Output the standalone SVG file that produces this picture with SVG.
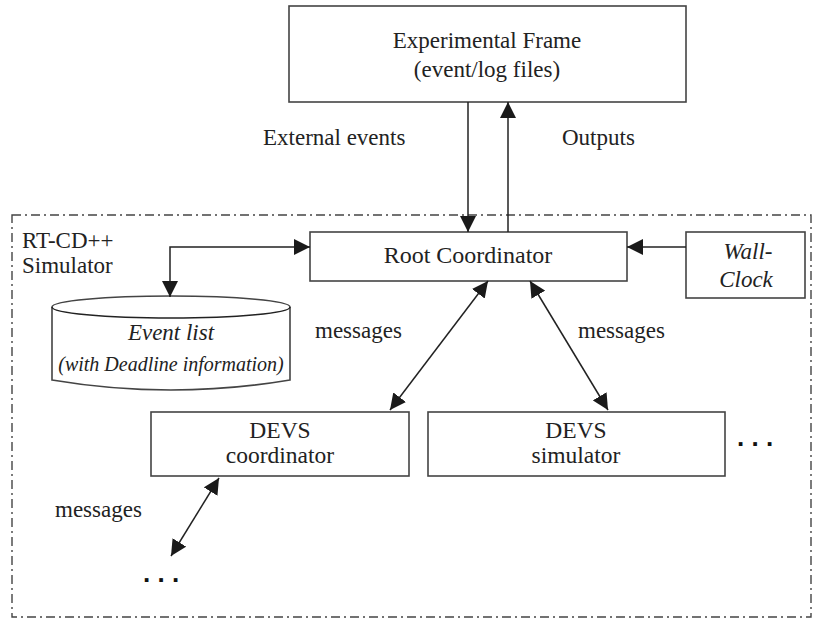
<svg xmlns="http://www.w3.org/2000/svg" width="816" height="621" viewBox="0 0 816 621">
  <defs>
    <marker id="ah" viewBox="0 0 10 10" refX="10" refY="5" markerWidth="16" markerHeight="16" markerUnits="userSpaceOnUse" orient="auto-start-reverse">
      <path d="M0,0 L10,5 L0,10 z" fill="#1a1a1a"/>
    </marker>
    <style>
      .box { fill: #fff; stroke: #444; stroke-width: 1.6; }
      .t { font-family: "Liberation Serif", "Times New Roman", serif; font-size: 23px; fill: #222; text-anchor: middle; }
      .i { font-style: italic; }
      .l { text-anchor: start; }
      .big { font-size: 23.5px; }
      .small { font-size: 20px; }
      .c { stroke: #222; stroke-width: 1.5; fill: none; }
      .dots { font-family: "Liberation Sans", Arial, sans-serif; font-size: 26px; font-weight: bold; fill: #111; }
    </style>
  </defs>
  <rect width="816" height="621" fill="#fff"/>

  <!-- simulator boundary -->
  <rect x="12" y="215" width="799" height="402" fill="none" stroke="#444" stroke-width="1.4" stroke-dasharray="9,4,2,4"/>
  <text class="t l" x="22" y="248">RT-CD++</text>
  <text class="t l" x="22" y="273">Simulator</text>

  <g id="experimental-frame">
    <rect class="box" x="289" y="6" width="397" height="96"/>
    <text class="t" x="487" y="48">Experimental Frame</text>
    <text class="t" x="487" y="77">(event/log files)</text>
  </g>

  <g id="root-coordinator">
    <rect class="box" x="310" y="232" width="317" height="49"/>
    <text class="t" x="468" y="263" style="font-size:24px">Root Coordinator</text>
  </g>

  <g id="wall-clock">
    <rect class="box" x="686" y="232" width="119" height="66"/>
    <text class="t i" x="748" y="259">Wall-</text>
    <text class="t i" x="746" y="287">Clock</text>
  </g>

  <g id="event-list">
    <path class="box" d="M52,307 A119,11 0 0 1 290,307 L290,380 Q171,400 52,380 Z"/>
    <path class="c" d="M52,307 A119,11 0 0 0 290,307" stroke="#444" stroke-width="1.4"/>
    <text class="t i" x="171" y="340">Event list</text>
    <text class="t i small" x="171" y="371">(with Deadline information)</text>
  </g>

  <g id="devs-coordinator">
    <rect class="box" x="151" y="412" width="258" height="64"/>
    <text class="t big" x="280" y="438">DEVS</text>
    <text class="t big" x="280" y="463">coordinator</text>
  </g>

  <g id="devs-simulator">
    <rect class="box" x="428" y="412" width="297" height="64"/>
    <text class="t big" x="576" y="438">DEVS</text>
    <text class="t big" x="576" y="463">simulator</text>
  </g>

  <g id="connectors">
    <line class="c" x1="468" y1="102" x2="468" y2="232" marker-end="url(#ah)"/>
    <line class="c" x1="508" y1="232" x2="508" y2="102" marker-end="url(#ah)"/>
    <line class="c" x1="686" y1="247" x2="627" y2="247" marker-end="url(#ah)"/>
    <polyline class="c" points="170,297 170,247 310,247" marker-start="url(#ah)" marker-end="url(#ah)"/>
    <line class="c" x1="488" y1="281" x2="390" y2="410" marker-start="url(#ah)" marker-end="url(#ah)"/>
    <line class="c" x1="530" y1="281" x2="608" y2="410" marker-start="url(#ah)" marker-end="url(#ah)"/>
    <line class="c" x1="219" y1="478" x2="171" y2="556" marker-start="url(#ah)" marker-end="url(#ah)"/>
  </g>

  <text class="t l" x="263" y="145">External events</text>
  <text class="t l" x="562" y="145">Outputs</text>
  <text class="t l" x="315" y="338">messages</text>
  <text class="t l" x="578" y="338">messages</text>
  <text class="t l" x="55" y="517">messages</text>
  <text class="dots" x="737" y="446">. . .</text>
  <text class="dots" x="143" y="582">. . .</text>
</svg>
